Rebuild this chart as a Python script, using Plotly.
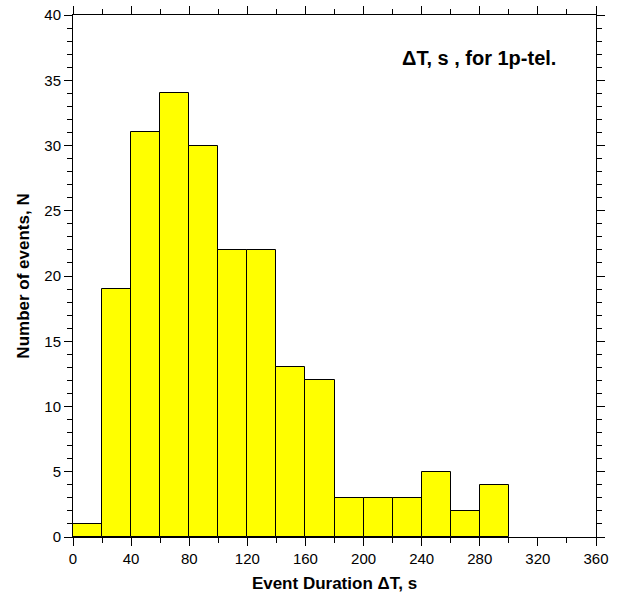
import plotly.graph_objects as go

# Histogram of event durations: 20 s bins from 0 to 300 s
bin_left_edges = [0, 20, 40, 60, 80, 100, 120, 140, 160, 180, 200, 220, 240, 260, 280]
bin_width = 20
event_counts = [1, 19, 31, 34, 30, 22, 22, 13, 12, 3, 3, 3, 5, 2, 4]

x_tick_values = [0, 40, 80, 120, 160, 200, 240, 280, 320, 360]
y_tick_values = [0, 5, 10, 15, 20, 25, 30, 35, 40]

bin_centers = [e + bin_width / 2 for e in bin_left_edges]

fig = go.Figure(
    go.Bar(
        x=bin_centers,
        y=event_counts,
        width=[bin_width] * len(bin_centers),
        marker=dict(color="#FFFF00", line=dict(color="black", width=1)),
        hoverinfo="x+y",
    )
)

font_family = "Liberation Sans, Arial, Helvetica, sans-serif"

axis_common = dict(
    showline=True,
    linecolor="black",
    linewidth=1,
    mirror="ticks",
    ticks="outside",
    ticklen=8,
    tickwidth=1,
    tickcolor="black",
    showgrid=False,
    zeroline=False,
    automargin=False,
    tickfont=dict(family=font_family, size=15, color="black"),
)

fig.update_xaxes(
    range=[0, 360],
    tickvals=x_tick_values,
    minor=dict(dtick=20, ticks="outside", ticklen=5, tickcolor="black", showgrid=False),
    title=dict(text="<b>Event Duration ΔT, s</b>", font=dict(family=font_family, size=17, color="black"), standoff=11),
    **axis_common,
)
fig.update_yaxes(
    range=[0, 40],
    tickvals=y_tick_values,
    minor=dict(dtick=1, ticks="outside", ticklen=5, tickcolor="black", showgrid=False),
    title=dict(text="<b>Number of events, N</b>", font=dict(family=font_family, size=17, color="black"), standoff=10),
    **axis_common,
)

fig.add_annotation(
    text="<b>ΔT, s , for 1p-tel.</b>",
    xref="paper", yref="paper",
    x=0.927, y=0.918,
    xanchor="right", yanchor="middle",
    showarrow=False,
    font=dict(family=font_family, size=20, color="black"),
)

fig.update_layout(
    width=621,
    height=598,
    margin=dict(l=73, r=25, t=15, b=61),
    paper_bgcolor="white",
    plot_bgcolor="white",
    showlegend=False,
    bargap=0,
)

fig.write_html("out.html")
